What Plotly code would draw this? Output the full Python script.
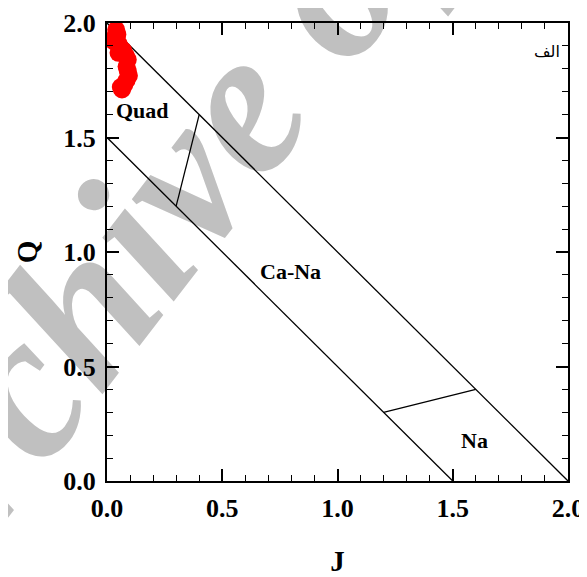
import plotly.graph_objects as go

# Sample points (J, Q)
sample_J = [0.040, 0.035, 0.045, 0.030, 0.050, 0.060, 0.070, 0.050, 0.080, 0.090,
            0.085, 0.090, 0.095, 0.085, 0.075, 0.065, 0.060]
sample_Q = [1.970, 1.940, 1.950, 1.920, 1.910, 1.890, 1.880, 1.870, 1.860, 1.840,
            1.810, 1.790, 1.770, 1.750, 1.730, 1.710, 1.720]

# Field boundaries
upper_J = [0.0, 2.0]
upper_Q = [2.0, 0.0]
lower_J = [0.0, 1.5]
lower_Q = [1.5, 0.0]
tie1_J = [0.3, 0.4]
tie1_Q = [1.2, 1.6]
tie2_J = [1.2, 1.6]
tie2_Q = [0.3, 0.4]

# Field labels
field_names = ["Quad", "Ca-Na", "Na"]
field_J = [0.152, 0.797, 1.594]
field_Q = [1.617, 0.914, 0.176]

x_ticks = [0.0, 0.5, 1.0, 1.5, 2.0]
y_ticks = [0.0, 0.5, 1.0, 1.5, 2.0]

SERIF = "Liberation Serif"

fig = go.Figure()
line_style = dict(color="black", width=1.3)
for xs, ys in [(upper_J, upper_Q), (lower_J, lower_Q), (tie1_J, tie1_Q), (tie2_J, tie2_Q)]:
    fig.add_trace(go.Scatter(x=xs, y=ys, mode="lines", line=line_style,
                             showlegend=False, hoverinfo="skip"))

fig.add_trace(go.Scatter(x=sample_J, y=sample_Q, mode="markers",
                         marker=dict(color="#ff0000", size=18, line=dict(width=0)),
                         showlegend=False))

for name, xj, yq in zip(field_names, field_J, field_Q):
    fig.add_annotation(x=xj, y=yq, text=name, showarrow=False,
                       font=dict(family=SERIF, size=22, color="black", weight="bold"))

fig.add_annotation(x=1.976, y=1.875, text="الف", showarrow=False, xanchor="right",
                   font=dict(family="DejaVu Serif, DejaVu Sans", size=16, color="black"))

# Watermark (drawn below everything)
fig.add_shape(type="line", xref="paper", yref="paper",
              x0=0.135, y0=0.713, x1=0.40, y1=1.06,
              line=dict(color="rgba(0,0,0,0)", width=0), layer="below",
              label=dict(text="Archive of SID", textangle=-52.5, textposition="middle",
                         xanchor="center", yanchor="middle", padding=0,
                         font=dict(family=SERIF, size=208, color="#c0c0c0",
                                   weight="bold", style="italic")))

axis_common = dict(
    showline=True, linewidth=2, linecolor="black", mirror="allticks",
    ticks="inside", ticklen=12, tickwidth=1.5, tickcolor="black",
    minor=dict(dtick=0.1, ticks="inside", ticklen=6, tickwidth=1.2, tickcolor="black"),
    showgrid=False, zeroline=False, tickformat=".1f", automargin=False,
    tickfont=dict(family=SERIF, size=26, color="black", weight="bold"),
)

fig.update_layout(
    width=579, height=569,
    margin=dict(l=99, r=19, t=15, b=96),
    paper_bgcolor="white", plot_bgcolor="rgba(0,0,0,0)",
    xaxis=dict(range=[0, 2], tickvals=x_ticks, ticklabelstandoff=3,
               title=dict(text="J", standoff=42,
                          font=dict(family=SERIF, size=29, color="black", weight="bold")),
               **axis_common),
    yaxis=dict(range=[0, 2], tickvals=y_ticks, ticklabelstandoff=4,
               title=dict(text="Q", standoff=17,
                          font=dict(family=SERIF, size=29, color="black", weight="bold")),
               **axis_common),
)

fig.write_html("out.html")
